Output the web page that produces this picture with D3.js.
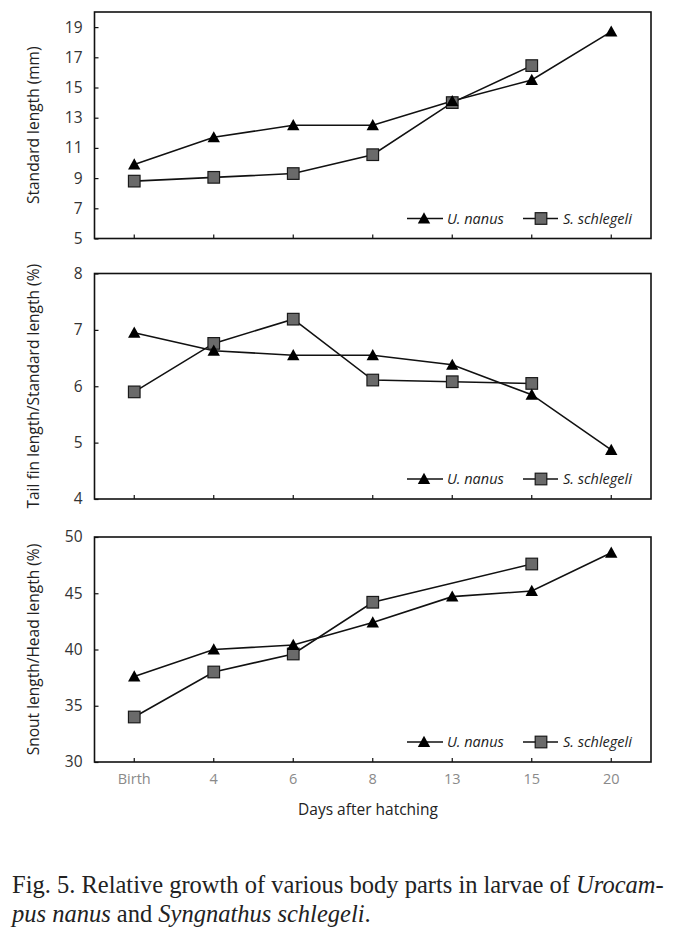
<!DOCTYPE html>
<html>
<head>
<meta charset="utf-8">
<script src="https://cdn.jsdelivr.net/npm/d3@7"></script>
<style>
  html, body { margin: 0; padding: 0; background: #fff; }
  svg { display: block; }
</style>
</head>
<body>
<svg id="chart" width="677" height="932"></svg>
<script>
// ---- data ----
const days = ["Birth", "4", "6", "8", "13", "15", "20"];
const seriesNames = ["U. nanus", "S. schlegeli"];

const standardLengthUN = [9.9, 11.7, 12.5, 12.5, 14.1, 15.5, 18.7];
const standardLengthSS = [8.8, 9.05, 9.3, 10.55, 14.0, 16.45, null];
const standardLengthTicks = [5, 7, 9, 11, 13, 15, 17, 19];

const tailFinUN = [6.95, 6.63, 6.55, 6.55, 6.38, 5.85, 4.87];
const tailFinSS = [5.9, 6.76, 7.19, 6.11, 6.08, 6.05, null];
const tailFinTicks = [4, 5, 6, 7, 8];

const snoutUN = [37.6, 40.0, 40.4, 42.4, 44.7, 45.2, 48.6];
const snoutSS = [34.0, 38.0, 39.6, 44.2, null, 47.6, null];
const snoutTicks = [30, 35, 40, 45, 50];

const yLabels = ["Standard length (mm)", "Tail fin length/Standard length (%)", "Snout length/Head length (%)"];
const xTitle = "Days after hatching";

// ---- layout ----
const svg = d3.select("#chart");
const left = 94.5, right = 651;
const x = d3.scaleBand().domain(days).range([left, right]).padding(0);
const cx = d => x(d) + x.bandwidth() / 2;

const panels = [
  { top: 12, bottom: 238.5, domain: [5, 20], ticks: standardLengthTicks, un: standardLengthUN, ss: standardLengthSS, label: yLabels[0] },
  { top: 273.5, bottom: 499, domain: [4, 8], ticks: tailFinTicks, un: tailFinUN, ss: tailFinSS, label: yLabels[1] },
  { top: 537, bottom: 762, domain: [30, 50], ticks: snoutTicks, un: snoutUN, ss: snoutSS, label: yLabels[2] }
];

const axisFont = "'Open Sans', 'Noto Sans', sans-serif";

function triangle(g, px, py) {
  const s = 6.2;
  g.append("path")
    .attr("d", `M${px},${py - s} L${px + s},${py + s * 0.8} L${px - s},${py + s * 0.8} Z`)
    .attr("fill", "#000");
}
function square(g, px, py) {
  const s = 5.8;
  g.append("rect")
    .attr("x", px - s).attr("y", py - s).attr("width", 2 * s).attr("height", 2 * s)
    .attr("fill", "#6a6a6a").attr("stroke", "#1a1a1a").attr("stroke-width", 1.2);
}

panels.forEach((p, i) => {
  const y = d3.scaleLinear().domain(p.domain).range([p.bottom, p.top]);
  const g = svg.append("g");

  // y axis (ticks inside)
  const yAxis = d3.axisLeft(y).tickValues(p.ticks).tickFormat(d3.format("d"))
    .tickSizeInner(-4).tickSizeOuter(0).tickPadding(12);
  const ya = g.append("g").attr("transform", `translate(${left},0)`).call(yAxis);
  ya.select(".domain").remove();
  ya.selectAll("line").attr("stroke", "#111").attr("stroke-width", 1.2);
  ya.selectAll("text").attr("font-family", axisFont).attr("font-size", 15.5).attr("fill", "#333");

  // x axis ticks (inside)
  const xAxis = d3.axisBottom(x).tickSizeInner(-4).tickSizeOuter(0).tickPadding(12);
  const xa = g.append("g").attr("transform", `translate(0,${p.bottom})`).call(xAxis);
  xa.select(".domain").remove();
  xa.selectAll("line").attr("stroke", "#111").attr("stroke-width", 1.2);
  xa.selectAll("text").attr("font-family", axisFont).attr("font-size", 14.5).attr("fill", "#8a8a8a")
    .style("display", i === 2 ? null : "none");

  // frame
  g.append("rect").attr("x", left).attr("y", p.top).attr("width", right - left).attr("height", p.bottom - p.top)
    .attr("fill", "none").attr("stroke", "#111").attr("stroke-width", 1.6);

  // lines
  const line = d3.line().x(d => cx(d.k)).y(d => y(d.v));
  const toPts = arr => days.map((k, j) => ({ k, v: arr[j] })).filter(d => d.v != null);
  const unPts = toPts(p.un), ssPts = toPts(p.ss);

  g.append("path").datum(ssPts).attr("d", line).attr("fill", "none").attr("stroke", "#111").attr("stroke-width", 1.6);
  g.append("path").datum(unPts).attr("d", line).attr("fill", "none").attr("stroke", "#111").attr("stroke-width", 1.6);

  ssPts.forEach(d => square(g, cx(d.k), y(d.v)));
  unPts.forEach(d => triangle(g, cx(d.k), y(d.v)));

  // legend
  const ly = p.bottom - 20;
  g.append("line").attr("x1", 407).attr("x2", 443).attr("y1", ly).attr("y2", ly).attr("stroke", "#111").attr("stroke-width", 1.6);
  triangle(g, 424, ly);
  g.append("text").attr("x", 447).attr("y", ly + 5).text(seriesNames[0])
    .attr("font-family", axisFont).attr("font-style", "italic").attr("font-size", 14.5).attr("fill", "#222");
  g.append("line").attr("x1", 523).attr("x2", 558).attr("y1", ly).attr("y2", ly).attr("stroke", "#111").attr("stroke-width", 1.6);
  square(g, 541, ly);
  g.append("text").attr("x", 563).attr("y", ly + 5).text(seriesNames[1])
    .attr("font-family", axisFont).attr("font-style", "italic").attr("font-size", 14.5).attr("fill", "#222");

  // y label
  const midY = (p.top + p.bottom) / 2;
  g.append("text").attr("transform", `translate(39,${midY}) rotate(-90)`)
    .attr("text-anchor", "middle").attr("font-family", axisFont).attr("font-size", 15.5).attr("fill", "#222")
    .text(p.label);
});

// x title
svg.append("text").attr("x", 368).attr("y", 815).attr("text-anchor", "middle")
  .attr("font-family", axisFont).attr("font-size", 15.5).attr("fill", "#222").text(xTitle);

// caption
const cap = svg.append("g").attr("font-family", "'Liberation Serif', 'Times New Roman', serif").attr("font-size", 24.5).attr("fill", "#222");
const l1 = cap.append("text").attr("x", 12).attr("y", 893);
l1.append("tspan").text("Fig. 5. Relative growth of various body parts in larvae of ");
l1.append("tspan").attr("font-style", "italic").text("Urocam-");
const l2 = cap.append("text").attr("x", 12).attr("y", 922);
l2.append("tspan").attr("font-style", "italic").text("pus nanus");
l2.append("tspan").text(" and ");
l2.append("tspan").attr("font-style", "italic").text("Syngnathus schlegeli");
l2.append("tspan").text(".");
</script>
</body>
</html>
